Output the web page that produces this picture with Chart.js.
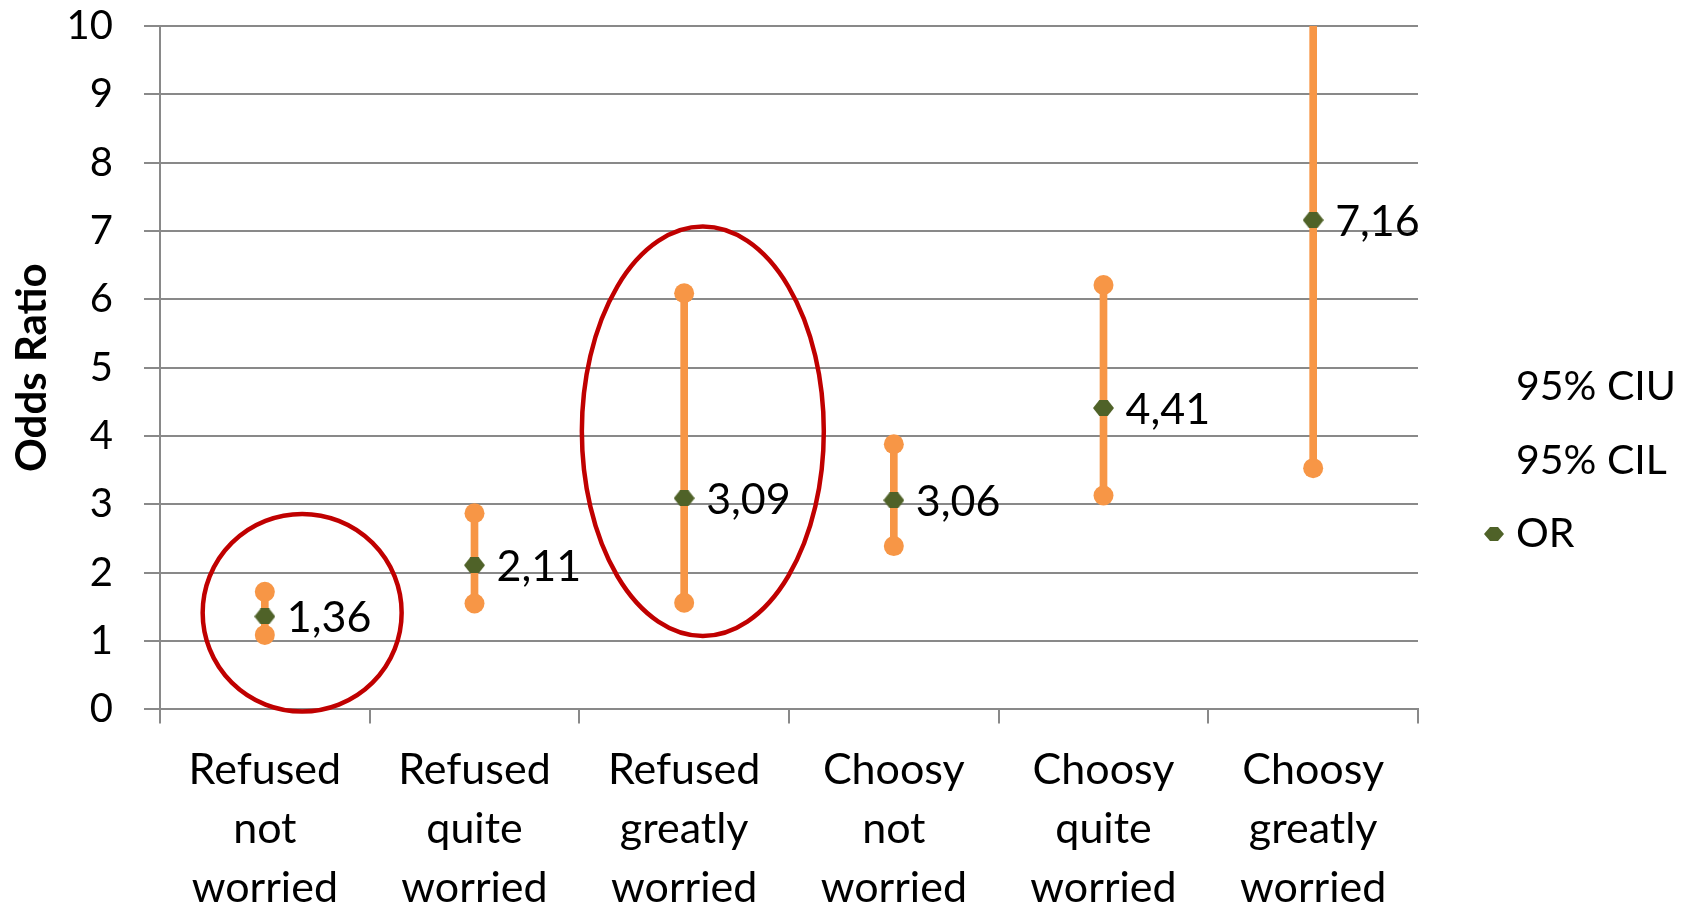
<!DOCTYPE html>
<html lang="en">
<head>
  <meta charset="UTF-8" />
  <title>Odds Ratio</title>
  <script src="https://cdn.jsdelivr.net/npm/chart.js"></script>
  <style>
    body {
      margin: 0;
      background: #fff;
    }

    #wrap {
      width: 1694px;
      height: 908px;
      position: relative;
    }
  </style>
</head>
<body>
  <div id="wrap"><canvas id="myChart"></canvas></div>

  <script>
    const categories = [
      ['Refused', 'not', 'worried'],
      ['Refused', 'quite', 'worried'],
      ['Refused', 'greatly', 'worried'],
      ['Choosy', 'not', 'worried'],
      ['Choosy', 'quite', 'worried'],
      ['Choosy', 'greatly', 'worried']
    ];
    const ciUpper = [1.72, 2.87, 6.09, 3.88, 6.21, 14.5];
    const ciLower = [1.09, 1.55, 1.56, 2.39, 3.13, 3.53];
    const oddsRatio = [1.36, 2.11, 3.09, 3.06, 4.41, 7.16];
    const seriesNames = ['95% CIU', '95% CIL', 'OR'];
    const yMin = 0, yMax = 10, yStep = 1;

    // red highlight rings, in data units (category index, odds ratio)
    const highlights = [
      { x: 0.178, y: 1.414, rx: 0.4745, ry: 1.446 },
      { x: 2.089, y: 4.07, rx: 0.577, ry: 2.995 }
    ];

    const ORANGE = '#F79646';
    const GREEN = '#4F6228';
    const GRID = '#898989';
    const FONT = 'Lato';

    // flattened diamond marker like the one Excel draws
    function makeMarker(w, h) {
      const c = document.createElement('canvas');
      c.width = w;
      c.height = h;
      const g = c.getContext('2d');
      g.fillStyle = GREEN;
      g.beginPath();
      g.moveTo(0, h / 2);
      g.lineTo(w * 0.3, 0);
      g.lineTo(w * 0.7, 0);
      g.lineTo(w, h / 2);
      g.lineTo(w * 0.7, h);
      g.lineTo(w * 0.3, h);
      g.closePath();
      g.fill();
      return c;
    }
    const orMarker = makeMarker(21, 16);
    const legendMarker = makeMarker(20, 14);

    const ringsPlugin = {
      id: 'rings',
      afterDraw(chart) {
        const { ctx, scales: { x, y } } = chart;
        ctx.save();
        ctx.strokeStyle = '#C00000';
        ctx.lineWidth = 4.5;
        highlights.forEach(h => {
          const cx = x.getPixelForValue(h.x);
          const cy = y.getPixelForValue(h.y);
          const rx = x.getPixelForValue(h.x + h.rx) - cx;
          const ry = cy - y.getPixelForValue(h.y + h.ry);
          ctx.beginPath();
          ctx.ellipse(cx, cy, rx, ry, 0, 0, Math.PI * 2);
          ctx.stroke();
        });
        ctx.restore();
      }
    };

    const valueLabels = {
      id: 'valueLabels',
      afterDatasetsDraw(chart) {
        const ctx = chart.ctx;
        const meta = chart.getDatasetMeta(3);
        ctx.save();
        ctx.font = `43px ${FONT}`;
        ctx.fillStyle = '#000';
        ctx.textAlign = 'left';
        ctx.textBaseline = 'middle';
        meta.data.forEach((pt, i) => {
          const txt = oddsRatio[i].toFixed(2).replace('.', ',');
          ctx.fillText(txt, pt.x + 22, pt.y + 2);
        });
        ctx.restore();
      }
    };

    const sideLegend = {
      id: 'sideLegend',
      afterDraw(chart) {
        const ctx = chart.ctx;
        const left = chart.chartArea.right + 98;
        const rows = [387, 461, 534];
        ctx.save();
        ctx.font = `41px ${FONT}`;
        ctx.fillStyle = '#000';
        ctx.textAlign = 'left';
        ctx.textBaseline = 'middle';
        seriesNames.forEach((name, i) => {
          ctx.fillText(name, left, rows[i]);
        });
        ctx.drawImage(legendMarker, left - 32, rows[2] - 7);
        ctx.restore();
      }
    };

    function draw() {
      const ctx = document.getElementById('myChart').getContext('2d');
      new Chart(ctx, {
        type: 'bar',
        data: {
          labels: categories,
          datasets: [
            {
              type: 'bar',
              label: 'CI',
              data: ciLower.map((lo, i) => [lo, ciUpper[i]]),
              backgroundColor: ORANGE,
              borderWidth: 0,
              barThickness: 7,
              order: 3
            },
            {
              type: 'line',
              label: seriesNames[0],
              data: ciUpper,
              showLine: false,
              pointRadius: 10,
              pointHoverRadius: 10,
              pointBackgroundColor: ORANGE,
              pointBorderWidth: 0,
              order: 2
            },
            {
              type: 'line',
              label: seriesNames[1],
              data: ciLower,
              showLine: false,
              pointRadius: 10,
              pointHoverRadius: 10,
              pointBackgroundColor: ORANGE,
              pointBorderWidth: 0,
              order: 2
            },
            {
              type: 'line',
              label: seriesNames[2],
              data: oddsRatio,
              showLine: false,
              pointStyle: orMarker,
              order: 1
            }
          ]
        },
        options: {
          responsive: true,
          maintainAspectRatio: false,
          animation: false,
          events: [],
          layout: {
            padding: { top: 26, right: 276, left: 0, bottom: 0 }
          },
          scales: {
            x: {
              afterFit(scale) { scale.height = 198.6; },
              grid: {
                offset: true,
                drawOnChartArea: false,
                drawTicks: true,
                tickLength: 14,
                color: GRID,
                lineWidth: 2
              },
              border: { display: true, color: GRID, width: 2 },
              ticks: {
                color: '#000',
                autoSkip: false,
                maxRotation: 0,
                padding: 17,
                font: { family: FONT, size: 43, lineHeight: 1.372 }
              }
            },
            y: {
              min: yMin,
              max: yMax,
              afterFit(scale) {
                scale.width = 160;
                scale.paddingTop = 0;
                scale.paddingBottom = 0;
              },
              grid: {
                color: GRID,
                lineWidth: 2,
                tickLength: 16
              },
              border: { display: true, color: GRID, width: 2 },
              ticks: {
                stepSize: yStep,
                color: '#000',
                padding: 31,
                font: { family: FONT, size: 40 }
              },
              title: {
                display: true,
                text: 'Odds Ratio',
                color: '#000',
                padding: { top: 7, bottom: 0 },
                font: { family: FONT, size: 42, weight: 'bold' }
              }
            }
          },
          plugins: {
            legend: { display: false },
            tooltip: { enabled: false }
          }
        },
        plugins: [valueLabels, ringsPlugin, sideLegend]
      });
    }

    document.fonts.load(`40px ${FONT}`).then(draw, draw);
  </script>
</body>
</html>
